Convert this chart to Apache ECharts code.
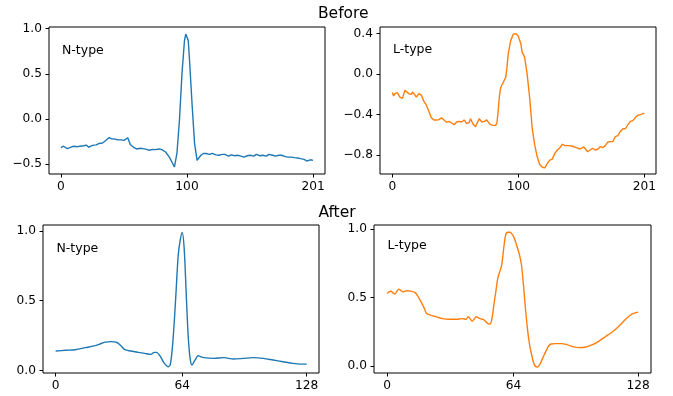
<!DOCTYPE html>
<html><head><meta charset="utf-8">
<script src="https://cdn.jsdelivr.net/npm/echarts@6/dist/echarts.min.js"></script>
<style>html,body{margin:0;padding:0;background:#fff}#c{width:673px;height:396px}</style>
</head><body><div id="c"></div>
<script>
// ---- Data ----
const beforeN_x = [0,2,5,8,10,13,15,18,20,22,25,28,30,33,35,38,40,43,45,48,50,53,55,58,60,63,65,68,70,73,75,78,80,83,86,88,90,92,94,96,98,99,100,101,102,104,106,108,109,111,113,115,118,120,123,125,128,130,133,135,138,140,143,145,148,150,153,155,158,160,163,165,168,170,173,175,178,180,183,185,188,190,193,195,198,200];
const beforeN_y = [-0.316,-0.30,-0.327,-0.31,-0.30,-0.305,-0.30,-0.295,-0.287,-0.31,-0.29,-0.285,-0.27,-0.265,-0.243,-0.206,-0.217,-0.222,-0.228,-0.23,-0.235,-0.206,-0.28,-0.316,-0.33,-0.322,-0.327,-0.335,-0.345,-0.335,-0.338,-0.33,-0.338,-0.364,-0.42,-0.474,-0.53,-0.38,-0.015,0.5,0.868,0.94,0.94,0.868,0.65,0.17,-0.27,-0.456,-0.474,-0.40,-0.38,-0.38,-0.39,-0.38,-0.395,-0.40,-0.39,-0.39,-0.41,-0.395,-0.405,-0.40,-0.41,-0.42,-0.405,-0.40,-0.41,-0.39,-0.405,-0.40,-0.41,-0.39,-0.40,-0.41,-0.40,-0.40,-0.415,-0.42,-0.42,-0.426,-0.43,-0.437,-0.445,-0.463,-0.45,-0.456];

const beforeL_x = [0,1,2,4,6,8,10,11,13,15,16,18,19,21,23,25,27,29,31,33,35,37,39,41,43,45,47,49,51,53,55,57,59,61,62,64,66,68,69,71,73,75,76,78,80,82,83,84,85,86,88,90,91,92,94,96,98,100,102,103,105,107,109,111,113,115,117,119,121,123,125,127,129,131,133,135,137,140,143,146,149,152,155,157,159,161,163,165,167,169,171,173,175,177,179,181,183,185,187,189,191,193,195,197,200];
const beforeL_y = [-0.183,-0.217,-0.193,-0.183,-0.227,-0.24,-0.16,-0.15,-0.193,-0.2,-0.177,-0.207,-0.227,-0.193,-0.207,-0.267,-0.307,-0.367,-0.433,-0.453,-0.453,-0.45,-0.433,-0.453,-0.477,-0.467,-0.483,-0.5,-0.473,-0.467,-0.473,-0.453,-0.49,-0.48,-0.44,-0.493,-0.52,-0.467,-0.44,-0.473,-0.467,-0.453,-0.473,-0.5,-0.507,-0.507,-0.483,-0.367,-0.217,-0.133,-0.083,-0.033,0.067,0.2,0.333,0.393,0.4,0.373,0.3,0.217,0.167,0.0,-0.233,-0.533,-0.7,-0.817,-0.893,-0.92,-0.927,-0.883,-0.85,-0.84,-0.783,-0.75,-0.727,-0.693,-0.707,-0.707,-0.713,-0.727,-0.74,-0.72,-0.767,-0.75,-0.733,-0.75,-0.743,-0.717,-0.727,-0.707,-0.673,-0.667,-0.667,-0.617,-0.607,-0.567,-0.54,-0.54,-0.5,-0.467,-0.46,-0.427,-0.407,-0.4,-0.387];

const afterN_x = [0,5,10,15,20,22,25,28,31,33,35,38,42,45,48,50,51,53,55,57,58,59,60,61,62,63,64,65,66,67,68,69,70,71,72,73,75,80,85,90,95,100,105,110,115,120,124,127];
const afterN_y = [0.139,0.144,0.148,0.163,0.177,0.187,0.203,0.206,0.2,0.177,0.148,0.139,0.129,0.122,0.115,0.129,0.129,0.098,0.05,0.026,0.043,0.158,0.349,0.589,0.828,0.935,0.99,0.876,0.565,0.254,0.086,0.038,0.062,0.086,0.105,0.1,0.091,0.086,0.091,0.081,0.086,0.091,0.086,0.074,0.062,0.05,0.045,0.045];

const afterL_x = [0,1,2,3,4,5,6,7,8,9,10,12,14,15,17,19,20,22,25,28,31,35,38,40,41,42,43,44,45,47,49,51,52,53,54,55,56,57,58,59,60,61,62,63,64,65,66,67,68,69,70,71,72,73,74,75,76,77,78,79,80,81,82,83,85,88,91,94,97,100,103,106,109,112,115,118,121,124,126,127];
const afterL_y = [0.529,0.541,0.546,0.534,0.524,0.546,0.561,0.551,0.541,0.546,0.549,0.546,0.537,0.522,0.473,0.415,0.383,0.371,0.359,0.346,0.341,0.341,0.346,0.341,0.359,0.346,0.327,0.341,0.359,0.346,0.337,0.31,0.307,0.341,0.444,0.541,0.639,0.688,0.737,0.859,0.956,0.976,0.976,0.968,0.944,0.907,0.859,0.81,0.737,0.59,0.42,0.273,0.163,0.09,0.029,-0.002,-0.007,0.005,0.034,0.066,0.098,0.127,0.151,0.161,0.163,0.163,0.156,0.141,0.134,0.137,0.151,0.171,0.2,0.229,0.261,0.302,0.346,0.38,0.39,0.393];

const xTicksBefore = [0,100,200];
const xTickLabelsBefore = ['0','100','201'];
const xTicksAfter = [0,64,127];
const xTickLabelsAfter = ['0','64','128'];
const yTicksBeforeN = [-0.5,0,0.5,1.0];
const yTicksBeforeL = [-0.8,-0.4,0,0.4];
const yTicksAfter = [0,0.5,1.0];
const panelLabels = ['N-type','L-type','N-type','L-type'];
const rowTitles = ['Before','After'];

const BLUE = '#1f77b4', ORANGE = '#ff7f0e';
const FONT = 'DejaVu Sans';
const pair = (xs, ys) => xs.map((x, i) => [x, ys[i]]);
const fmtNum = d => v => (v < 0 ? '\u2212' : '') + Math.abs(v).toFixed(d);

function xAxis(idx, min, max, ticks, labels) {
  return {
    type: 'value', gridIndex: idx, min, max, position: 'bottom',
    axisLine: { show: false, onZero: false },
    splitLine: { show: false },
    axisTick: { show: true, length: 3.5, customValues: ticks, lineStyle: { color: '#000', width: 1 } },
    axisLabel: { customValues: ticks, margin: 7, color: '#000', fontSize: 12.2, fontFamily: FONT,
      formatter: v => labels[ticks.indexOf(v)] ?? String(v) }
  };
}
function yAxis(idx, min, max, ticks, dec) {
  return {
    type: 'value', gridIndex: idx, min, max, position: 'left',
    axisLine: { show: false, onZero: false },
    splitLine: { show: false },
    axisTick: { show: true, length: 3.5, customValues: ticks, lineStyle: { color: '#000', width: 1 } },
    axisLabel: { customValues: ticks, margin: 7, color: '#000', fontSize: 12.2, fontFamily: FONT,
      formatter: fmtNum(dec) }
  };
}
const gridBase = { show: true, borderColor: '#000', borderWidth: 1, backgroundColor: 'transparent', containLabel: false };
const label = (x, y, text, size) => ({ type: 'text', x, y, style: { text, fontSize: size, fontFamily: FONT, fill: '#000', align: 'left', verticalAlign: 'middle' } });
const title = (x, y, text) => ({ type: 'text', x, y, style: { text, fontSize: 15.5, fontFamily: FONT, fill: '#000', align: 'center', verticalAlign: 'middle' } });

const chart = echarts.init(document.getElementById('c'), null, { renderer: 'canvas' });
chart.setOption({
  animation: false,
  backgroundColor: '#fff',
  grid: [
    Object.assign({ left: 49, top: 27, width: 276, height: 147 }, gridBase),
    Object.assign({ left: 380, top: 27, width: 276, height: 147 }, gridBase),
    Object.assign({ left: 43, top: 225, width: 276, height: 148 }, gridBase),
    Object.assign({ left: 374, top: 225, width: 277, height: 148 }, gridBase)
  ],
  xAxis: [
    xAxis(0, -9.5, 209.5, xTicksBefore, xTickLabelsBefore),
    xAxis(1, -9.8, 209.3, xTicksBefore, xTickLabelsBefore),
    xAxis(2, -6.4, 133.2, xTicksAfter, xTickLabelsAfter),
    xAxis(3, -6.6, 133.5, xTicksAfter, xTickLabelsAfter)
  ],
  yAxis: [
    yAxis(0, -0.607, 1.018, yTicksBeforeN, 1),
    yAxis(1, -0.987, 0.465, yTicksBeforeL, 1),
    yAxis(2, -0.019, 1.043, yTicksAfter, 1),
    yAxis(3, -0.051, 1.029, yTicksAfter, 1)
  ],
  series: [
    { type: 'line', xAxisIndex: 0, yAxisIndex: 0, data: pair(beforeN_x, beforeN_y), showSymbol: false, lineStyle: { color: BLUE, width: 1.4 }, itemStyle: { color: BLUE } },
    { type: 'line', xAxisIndex: 1, yAxisIndex: 1, data: pair(beforeL_x, beforeL_y), showSymbol: false, lineStyle: { color: ORANGE, width: 1.4 }, itemStyle: { color: ORANGE } },
    { type: 'line', xAxisIndex: 2, yAxisIndex: 2, data: pair(afterN_x, afterN_y), showSymbol: false, smooth: 0.3, lineStyle: { color: BLUE, width: 1.4 }, itemStyle: { color: BLUE } },
    { type: 'line', xAxisIndex: 3, yAxisIndex: 3, data: pair(afterL_x, afterL_y), showSymbol: false, smooth: 0.3, lineStyle: { color: ORANGE, width: 1.4 }, itemStyle: { color: ORANGE } }
  ],
  graphic: [
    label(62, 51, panelLabels[0], 12.5),
    label(393, 49.5, panelLabels[1], 12.5),
    label(56.5, 248.5, panelLabels[2], 12.5),
    label(387.5, 246, panelLabels[3], 12.5),
    title(343.3, 13.5, rowTitles[0]),
    title(337, 213, rowTitles[1])
  ]
});
</script></body></html>
